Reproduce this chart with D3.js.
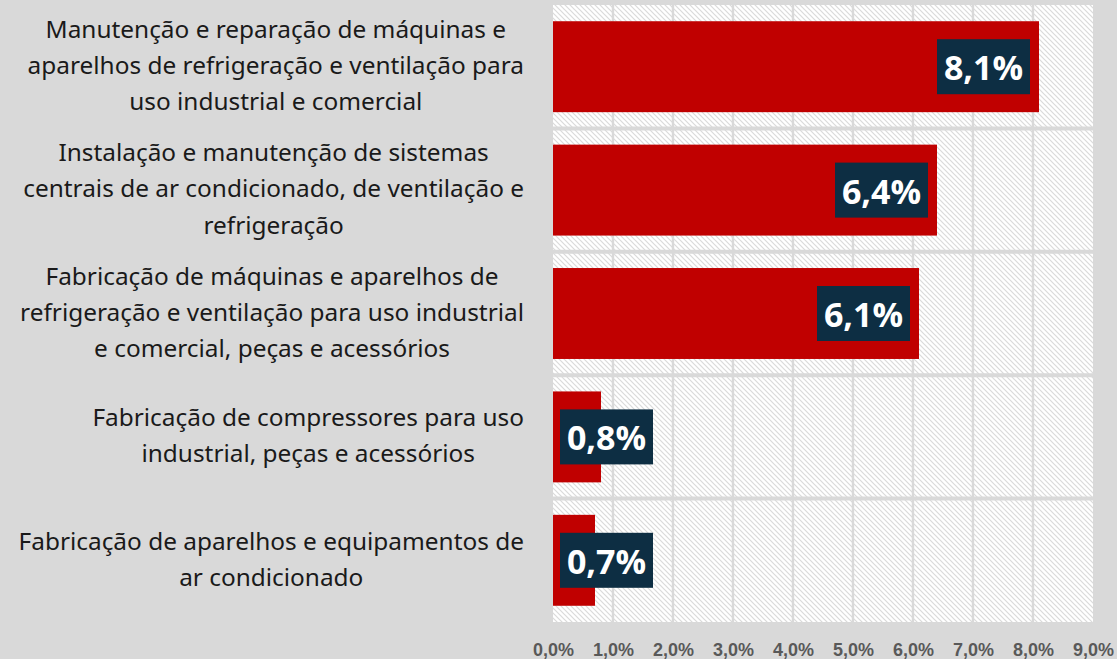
<!DOCTYPE html>
<html>
<head>
<meta charset="utf-8">
<script src="https://cdn.jsdelivr.net/npm/d3@7"></script>
<style>
  html, body { margin: 0; padding: 0; background: #d9d9d9; }
  svg { display: block; }
</style>
</head>
<body>
<svg id="chart" width="1117" height="659"></svg>
<script>
// Share of companies by activity (%), line breaks marked with "\n"
const categories = [
  "Manutenção e reparação de máquinas e\naparelhos de refrigeração e ventilação para\nuso industrial e comercial",
  "Instalação e manutenção de sistemas\ncentrais de ar condicionado, de ventilação e\nrefrigeração",
  "Fabricação de máquinas e aparelhos de\nrefrigeração e ventilação para uso industrial\ne comercial, peças e acessórios",
  "Fabricação de compressores para uso\nindustrial, peças e acessórios",
  "Fabricação de aparelhos e equipamentos de\nar condicionado"
];
const values = [8.1, 6.4, 6.1, 0.8, 0.7];
const tickValues = [0, 1, 2, 3, 4, 5, 6, 7, 8, 9];

const plot = { left: 553, right: 1093, top: 5, bottom: 622 };
const labelRight = 524;

const fmt = v => d3.format(".1f")(v).replace(".", ",") + "%";

const svg = d3.select("#chart");

const x = d3.scaleLinear().domain([0, 9]).range([plot.left, plot.right]);
const y = d3.scaleBand().domain(d3.range(categories.length))
  .range([plot.top, plot.bottom])
  .paddingInner(0.263).paddingOuter(0.1315);

// Diagonal hatch fill for the plot area
const defs = svg.append("defs");
const pat = defs.append("pattern")
  .attr("id", "hatch").attr("patternUnits", "userSpaceOnUse")
  .attr("width", 5).attr("height", 5);
pat.append("rect").attr("width", 5).attr("height", 5).attr("fill", "#ffffff");
pat.append("path")
  .attr("d", "M0,0L5,5M-2.5,2.5L2.5,7.5M2.5,-2.5L7.5,2.5")
  .attr("stroke", "#dadada").attr("stroke-width", 1.2);

svg.append("rect")
  .attr("x", plot.left).attr("y", plot.top)
  .attr("width", plot.right - plot.left).attr("height", plot.bottom - plot.top)
  .attr("fill", "url(#hatch)");

// Vertical gridlines
svg.append("g").selectAll("line")
  .data(tickValues.slice(1, -1))
  .join("line")
  .attr("x1", d => x(d)).attr("x2", d => x(d))
  .attr("y1", plot.top).attr("y2", plot.bottom)
  .attr("stroke", "#d9d9d9").attr("stroke-width", 2.4);

// Row separators between categories
const step = y.step();
svg.append("g").selectAll("line")
  .data(d3.range(1, categories.length))
  .join("line")
  .attr("x1", plot.left).attr("x2", plot.right)
  .attr("y1", i => plot.top + i * step).attr("y2", i => plot.top + i * step)
  .attr("stroke", "#d9d9d9").attr("stroke-width", 4);

// Bars
svg.append("g").selectAll("rect")
  .data(values)
  .join("rect")
  .attr("x", x(0))
  .attr("y", (d, i) => y(i))
  .attr("width", d => x(d) - x(0))
  .attr("height", y.bandwidth())
  .attr("fill", "#c00000");

// Value labels in dark boxes
const boxW = 93, boxH = 55;
const lab = svg.append("g").selectAll("g")
  .data(values)
  .join("g")
  .attr("transform", (d, i) => {
    const bx = Math.max(x(d) - 9 - boxW, x(0) + 7);
    const by = y(i) + y.bandwidth() / 2 - boxH / 2;
    return `translate(${bx},${by})`;
  });
lab.append("rect")
  .attr("width", boxW).attr("height", boxH)
  .attr("fill", "#0d2e43");
lab.append("text")
  .attr("x", boxW / 2).attr("y", boxH / 2)
  .attr("dy", "0.4em")
  .attr("text-anchor", "middle")
  .attr("font-family", "'Open Sans', sans-serif")
  .attr("font-weight", 700)
  .attr("font-size", 34)
  .attr("fill", "#ffffff")
  .text(d => fmt(d));

// X axis tick labels
const xAxis = d3.axisBottom(x).tickValues(tickValues).tickFormat(fmt).tickSize(0).tickPadding(0);
const ax = svg.append("g").attr("transform", `translate(0,${plot.bottom})`).call(xAxis);
ax.select(".domain").remove();
ax.selectAll("text")
  .attr("y", 34).attr("dy", 0)
  .attr("font-family", "'Liberation Sans', Arial, sans-serif")
  .attr("font-weight", 700)
  .attr("font-size", 18)
  .attr("fill", "#595959");

// Category labels: right-aligned block, lines centred within it
const lineH = 36.2;
const catG = svg.append("g");
categories.forEach((c, i) => {
  const lines = c.split("\n");
  const t = catG.append("text")
    .attr("font-family", "'Noto Sans', sans-serif")
    .attr("font-size", 24.4)
    .attr("fill", "#1a1a1a")
    .attr("text-anchor", "middle");
  const cy = y(i) + y.bandwidth() / 2;
  const spans = lines.map((ln, k) =>
    t.append("tspan")
      .attr("y", cy + (k - (lines.length - 1) / 2) * lineH)
      .attr("dy", "0.3em")
      .text(ln));
  const widest = d3.max(spans, s => s.node().getComputedTextLength());
  spans.forEach(s => s.attr("x", labelRight - widest / 2));
});
</script>
</body>
</html>
